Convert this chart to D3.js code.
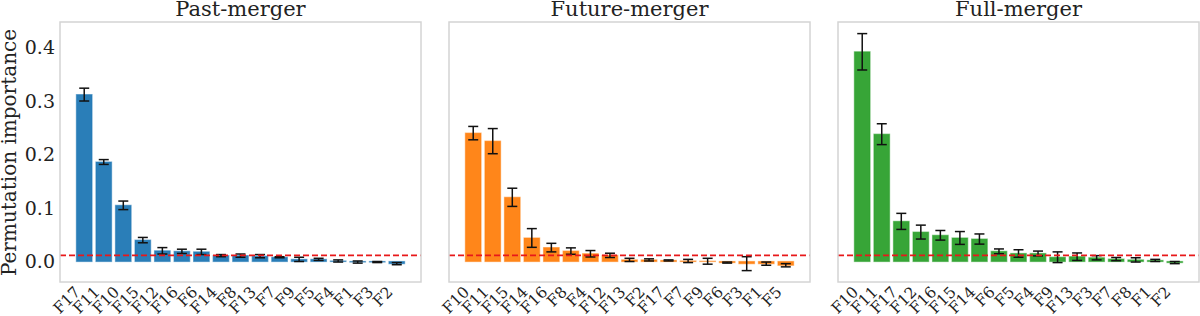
<!DOCTYPE html>
<html>
<head>
<meta charset="utf-8">
<script src="https://cdn.jsdelivr.net/npm/d3@7"></script>
<style>
  body { margin: 0; background: #fff; }
  svg text { font-family: "DejaVu Serif", serif; fill: #222; }
</style>
</head>
<body>
<div class="chart"></div>
<script>
var width = 1200;
var height = 316;

// data
var panelTitles = ['Past-merger', 'Future-merger', 'Full-merger'];
var panelColors = ['#1f77b4', '#ff7f0e', '#2ca02c'];

var pastFeatures = ['F17','F11','F10','F15','F12','F16','F6','F14','F8','F13','F7','F9','F5','F4','F1','F3','F2'];
var pastValues = [0.312, 0.186, 0.105, 0.040, 0.020, 0.019, 0.018, 0.011, 0.011, 0.010, 0.008, 0.004, 0.004, 0.001, -0.001, -0.001, -0.004];
var pastErrors = [0.012, 0.0045, 0.008, 0.005, 0.006, 0.004, 0.005, 0.002, 0.003, 0.003, 0.001, 0.004, 0.002, 0.002, 0.002, 0.001, 0.002];

var futureFeatures = ['F10','F11','F15','F14','F16','F8','F4','F12','F13','F2','F17','F7','F9','F6','F3','F1','F5'];
var futureValues = [0.240, 0.225, 0.120, 0.044, 0.026, 0.0195, 0.0145, 0.0115, 0.003, 0.003, 0.002, 0.001, 0.0005, -0.002, -0.004, -0.004, -0.007];
var futureErrors = [0.0125, 0.0235, 0.017, 0.0175, 0.008, 0.006, 0.006, 0.004, 0.003, 0.002, 0.001, 0.003, 0.0055, 0.001, 0.013, 0.003, 0.003];

var fullFeatures = ['F10','F11','F17','F12','F16','F15','F14','F6','F5','F4','F9','F13','F3','F7','F8','F1','F2'];
var fullValues = [0.392, 0.238, 0.075, 0.055, 0.049, 0.044, 0.042, 0.019, 0.015, 0.015, 0.008, 0.009, 0.007, 0.0045, 0.003, 0.002, -0.002];
var fullErrors = [0.034, 0.0195, 0.015, 0.013, 0.009, 0.012, 0.0095, 0.0045, 0.007, 0.0045, 0.010, 0.007, 0.004, 0.003, 0.004, 0.002, 0.002];

var yTicks = [0.0, 0.1, 0.2, 0.3, 0.4];
var thresholdValue = 0.0115;

var panels = [
  {title: panelTitles[0], color: panelColors[0], features: pastFeatures, values: pastValues, errors: pastErrors},
  {title: panelTitles[1], color: panelColors[1], features: futureFeatures, values: futureValues, errors: futureErrors},
  {title: panelTitles[2], color: panelColors[2], features: fullFeatures, values: fullValues, errors: fullErrors}
];

var panelLeft = [60, 449, 838];
var panelWidth = 361;
var frameTop = 22, frameBottom = 282;

var svg = d3.select('div.chart').append('svg')
  .attr('width', width)
  .attr('height', height);

var y_scale = d3.scaleLinear()
  .domain([-0.0383, 0.4477])
  .range([frameBottom, frameTop]);

panels.forEach(function(p, i){
  var x0 = panelLeft[i];
  var data = p.features.map(function(f, j){ return {feature: f, value: p.values[j], err: p.errors[j]}; });

  var x_scale = d3.scaleBand()
    .domain(p.features)
    .range([x0, x0 + panelWidth])
    .paddingInner(0.2)
    .paddingOuter(0.84);

  var g = svg.append('g').attr('class', 'panel');

  // bars
  g.selectAll('rect.bar')
    .data(data)
    .enter()
    .append('rect')
    .attr('class', 'bar')
    .attr('x', function(d){ return x_scale(d.feature); })
    .attr('width', x_scale.bandwidth())
    .attr('y', function(d){ return y_scale(Math.max(0, d.value)); })
    .attr('height', function(d){ return Math.abs(y_scale(d.value) - y_scale(0)); })
    .attr('fill', p.color)
    .attr('fill-opacity', 0.95)
    .attr('stroke', p.color)
    .attr('stroke-opacity', 0.55)
    .attr('stroke-width', 1.2);

  // error bars
  var eb = g.selectAll('g.err')
    .data(data)
    .enter()
    .append('g')
    .attr('class', 'err')
    .attr('stroke', '#111')
    .attr('stroke-width', 1.5);
  var cx = function(d){ return x_scale(d.feature) + x_scale.bandwidth() / 2; };
  eb.append('line')
    .attr('x1', cx).attr('x2', cx)
    .attr('y1', function(d){ return y_scale(d.value - d.err); })
    .attr('y2', function(d){ return y_scale(d.value + d.err); });
  eb.append('line')
    .attr('x1', function(d){ return cx(d) - 5; }).attr('x2', function(d){ return cx(d) + 5; })
    .attr('y1', function(d){ return y_scale(d.value - d.err); })
    .attr('y2', function(d){ return y_scale(d.value - d.err); });
  eb.append('line')
    .attr('x1', function(d){ return cx(d) - 5; }).attr('x2', function(d){ return cx(d) + 5; })
    .attr('y1', function(d){ return y_scale(d.value + d.err); })
    .attr('y2', function(d){ return y_scale(d.value + d.err); });

  // threshold line
  g.append('line')
    .attr('x1', x0).attr('x2', x0 + panelWidth)
    .attr('y1', y_scale(thresholdValue)).attr('y2', y_scale(thresholdValue))
    .attr('stroke', '#e8181a')
    .attr('stroke-width', 1.6)
    .attr('stroke-dasharray', '6,3');

  // frame
  g.append('rect')
    .attr('x', x0).attr('y', frameTop)
    .attr('width', panelWidth).attr('height', frameBottom - frameTop)
    .attr('fill', 'none')
    .attr('stroke', '#d4d4d4')
    .attr('stroke-width', 1.5);

  // title
  g.append('text')
    .attr('x', x0 + panelWidth / 2)
    .attr('y', 16)
    .style('text-anchor', 'middle')
    .style('font-size', '21px')
    .text(p.title);

  // x tick labels
  var x_axis = d3.axisBottom(x_scale).tickSize(0).tickPadding(0);
  var xg = g.append('g')
    .attr('class', 'x-axis')
    .attr('transform', 'translate(0,' + frameBottom + ')')
    .call(x_axis);
  xg.select('.domain').remove();
  xg.selectAll('text')
    .attr('y', 0).attr('dy', 0)
    .attr('transform', 'translate(-3,11) rotate(-45)')
    .style('text-anchor', 'end')
    .style('font-size', '15.5px')
    .attr('fill', '#222');

  if (i === 0) {
    var y_axis = d3.axisLeft(y_scale).tickValues(yTicks).tickSize(0).tickPadding(5)
      .tickFormat(d3.format('.1f'));
    var yg = g.append('g')
      .attr('class', 'y-axis')
      .attr('transform', 'translate(' + x0 + ',0)')
      .call(y_axis);
    yg.select('.domain').remove();
    yg.selectAll('text')
      .style('font-size', '19px')
      .attr('fill', '#222');

    g.append('text')
      .attr('transform', 'rotate(-90)')
      .attr('x', -152.5)
      .attr('y', 16)
      .style('text-anchor', 'middle')
      .style('font-size', '20px')
      .text('Permutation importance');
  }
});
</script>
</body>
</html>
